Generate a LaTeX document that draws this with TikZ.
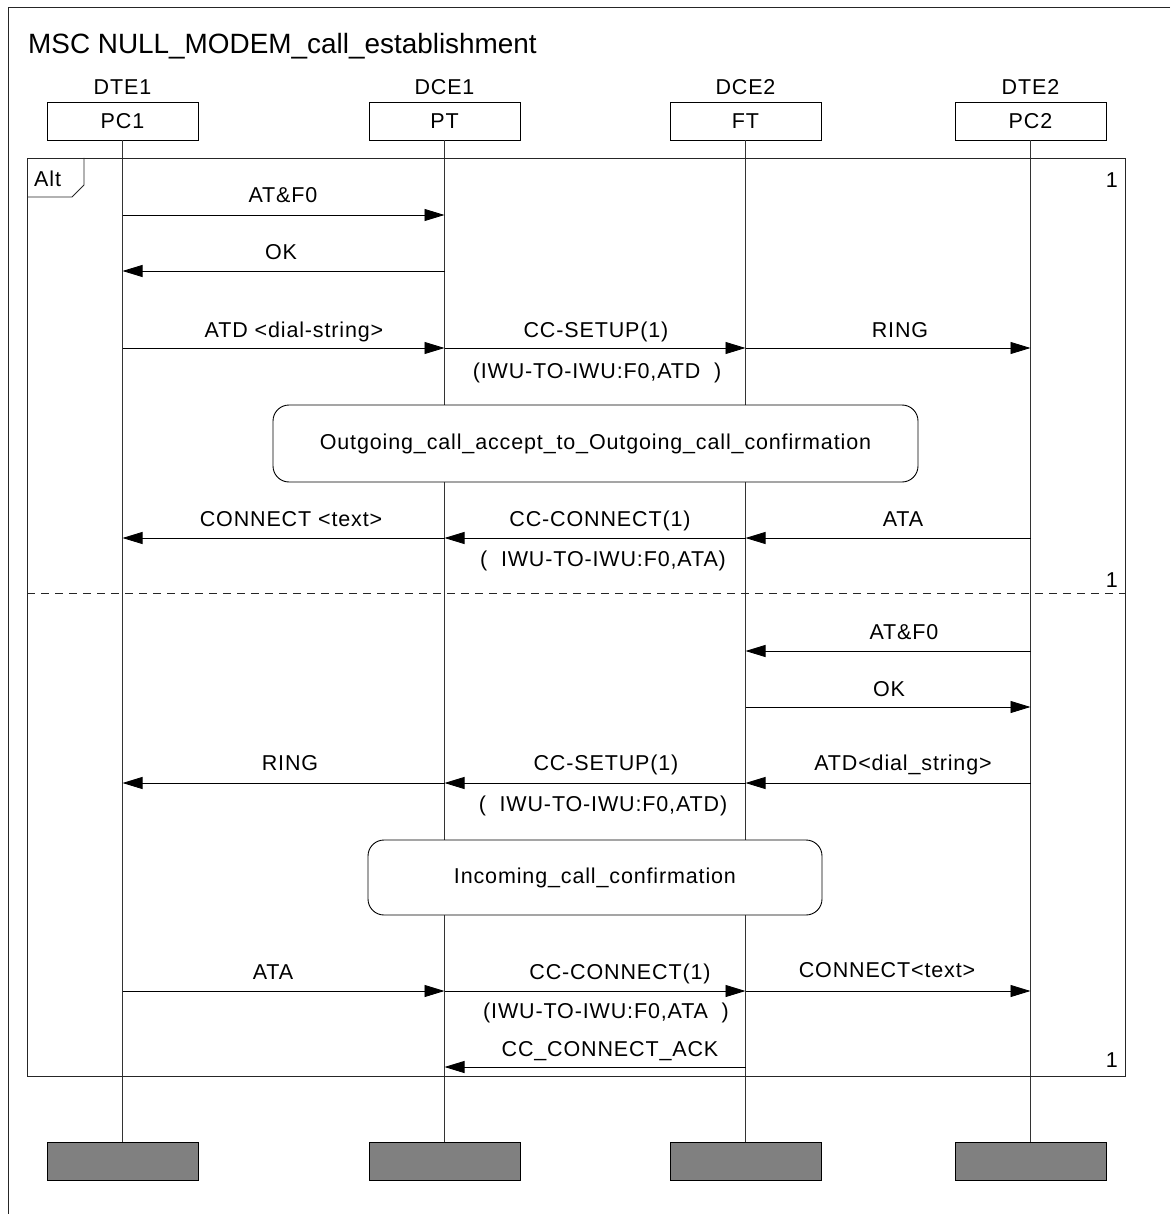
\documentclass[tikz,border=0pt]{standalone}
\usepackage{fontspec}
\setmainfont{Liberation Sans}[LetterSpace=4]
\newfontfamily\titlefont{Liberation Sans}
\usetikzlibrary{arrows.meta}
\definecolor{endgray}{RGB}{128,128,128}
\newcommand{\msgsize}{\fontsize{21.5}{25}\selectfont}
\tikzset{
  head/.style={draw, line width=0.9pt, minimum width=151pt, minimum height=38pt, inner sep=0pt, font=\msgsize},
  endbox/.style={draw, line width=0.9pt, fill=endgray, minimum width=151pt, minimum height=38pt, inner sep=0pt},
  life/.style={line width=0.8pt, black!80},
  msg/.style={-{Triangle[length=20pt,width=12pt]}, line width=0.9pt},
  lbl/.style={anchor=base, font=\msgsize, inner sep=0pt},
  cond/.style={draw, fill=white, line width=0.9pt, rounded corners=16pt, inner sep=0pt, font=\msgsize},
  frameline/.style={line width=0.9pt, black!85}
}
\begin{document}
\begin{tikzpicture}[x=1pt,y=-1pt]
\useasboundingbox (0,0) rectangle (1170,1214);
% outer diagram frame (continues past the page edge)
\draw[frameline] (1170,7) -- (8,7) -- (8,1214);
\node[anchor=base west, inner sep=0pt, font=\titlefont\fontsize{27.9}{32}\selectfont] (title) at (28,54) {MSC NULL\_MODEM\_call\_establishment};

% instance heads
\node[head] (pc1) at (122.5,121) {PC1};
\node[head] (pt)  at (444.5,121) {PT};
\node[head] (ft)  at (745.5,121) {FT};
\node[head] (pc2) at (1030.5,121) {PC2};
\node[lbl] (n1) at (122.5,95) {DTE1};
\node[lbl] (n2) at (444.5,95) {DCE1};
\node[lbl] (n3) at (745.5,95) {DCE2};
\node[lbl] (n4) at (1030.5,95) {DTE2};

% instance ends
\node[endbox] (pc1e) at (122.5,1161) {};
\node[endbox] (pte)  at (444.5,1161) {};
\node[endbox] (fte)  at (745.5,1161) {};
\node[endbox] (pc2e) at (1030.5,1161) {};

% lifelines
\foreach \i in {pc1,pt,ft,pc2} \draw[life] (\i.south) -- (\i e.north);

% alt inline expression
\draw[frameline] (27,158) rectangle (1125,1076);
\draw[frameline] (27,197) -- (72,197) -- (84,185) -- (84,158);
\node[anchor=base west, inner sep=0pt, font=\msgsize] (alt) at (34,187) {Alt};
\draw[frameline, dash pattern=on 8pt off 6pt] (27,593) -- (1125,593);
\node[anchor=base east, inner sep=0pt, font=\msgsize] (k1) at (1118,188) {1};
\node[anchor=base east, inner sep=0pt, font=\msgsize] (k2) at (1118,587) {1};
\node[anchor=base east, inner sep=0pt, font=\msgsize] (k3) at (1118,1067) {1};

% message rows
\coordinate (r1) at (0,215);
\coordinate (r2) at (0,271);
\coordinate (r3) at (0,348);
\coordinate (r4) at (0,538);
\coordinate (r5) at (0,651);
\coordinate (r6) at (0,707);
\coordinate (r7) at (0,783);
\coordinate (r8) at (0,991);
\coordinate (r9) at (0,1067);

% first alternative: outgoing call
\draw[msg] (pc1 |- r1) -- (pt |- r1);
\node[lbl] at (283,203) {AT\&F0};
\draw[msg] (pt |- r2) -- (pc1 |- r2);
\node[lbl] at (281,260) {OK};

\draw[msg] (pc1 |- r3) -- (pt |- r3);
\draw[msg] (pt |- r3) -- (ft |- r3);
\draw[msg] (ft |- r3) -- (pc2 |- r3);
\node[lbl] at (294,337) {ATD <dial-string>};
\node[lbl] at (596,337) {CC-SETUP(1)};
\node[lbl] at (900,337) {RING};
\node[lbl] at (597,378) {(IWU-TO-IWU:F0,ATD\ \ )};

\node[cond, minimum width=645pt, minimum height=77pt] (c1) at (595.5,443.5) {Outgoing\_call\_accept\_to\_Outgoing\_call\_confirmation};

\draw[msg] (pt |- r4) -- (pc1 |- r4);
\draw[msg] (ft |- r4) -- (pt |- r4);
\draw[msg] (pc2 |- r4) -- (ft |- r4);
\node[lbl] at (291,526) {CONNECT <text>};
\node[lbl] at (600,526) {CC-CONNECT(1)};
\node[lbl] at (903,526) {ATA};
\node[lbl] at (603,566) {(\ \ IWU-TO-IWU:F0,ATA)};

% second alternative: incoming call
\draw[msg] (pc2 |- r5) -- (ft |- r5);
\node[lbl] at (904,639) {AT\&F0};
\draw[msg] (ft |- r6) -- (pc2 |- r6);
\node[lbl] at (889,696) {OK};

\draw[msg] (pt |- r7) -- (pc1 |- r7);
\draw[msg] (ft |- r7) -- (pt |- r7);
\draw[msg] (pc2 |- r7) -- (ft |- r7);
\node[lbl] at (290,770) {RING};
\node[lbl] at (606,770) {CC-SETUP(1)};
\node[lbl] at (903,770) {ATD<dial\_string>};
\node[lbl] at (603,811) {(\ \ IWU-TO-IWU:F0,ATD)};

\node[cond, minimum width=454pt, minimum height=75pt] (c2) at (595,877.5) {Incoming\_call\_confirmation};

\draw[msg] (pc1 |- r8) -- (pt |- r8);
\draw[msg] (pt |- r8) -- (ft |- r8);
\draw[msg] (ft |- r8) -- (pc2 |- r8);
\node[lbl] at (273,979) {ATA};
\node[lbl] at (620,979) {CC-CONNECT(1)};
\node[lbl] at (887,977) {CONNECT<text>};
\node[lbl] at (606,1018) {(IWU-TO-IWU:F0,ATA\ \ )};

\draw[msg] (ft |- r9) -- (pt |- r9);
\node[lbl] at (610,1056) {CC\_CONNECT\_ACK};
\end{tikzpicture}
\end{document}
